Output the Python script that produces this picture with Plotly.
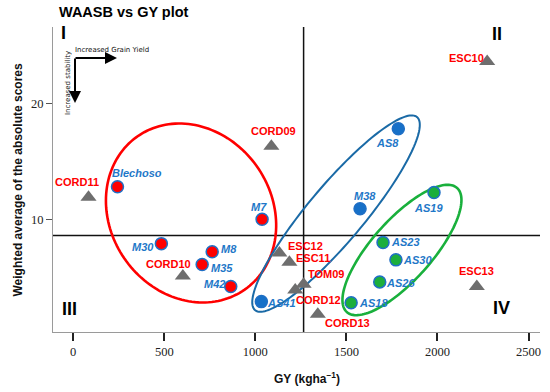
import numpy as np
import plotly.graph_objects as go

# ---------------- data ----------------
gen_names = ["Blechoso", "M7", "M30", "M8", "M35", "M42",
             "AS8", "M38", "AS41",
             "AS19", "AS23", "AS30", "AS26", "AS18"]
gen_gy = [243, 1037, 484, 763, 708, 865,
          1785, 1575, 1033,
          1981, 1701, 1772, 1683, 1526]
gen_waasb = [12.8, 10.0, 7.9, 7.2, 6.1, 4.2,
             17.8, 10.9, 2.9,
             12.3, 8.0, 6.5, 4.6, 2.8]
gen_group = ["red"] * 6 + ["blue"] * 3 + ["green"] * 5

env_names = ["CORD11", "CORD09", "CORD10", "ESC12", "ESC11", "TOM09",
             "CORD12", "CORD13", "ESC13", "ESC10"]
env_gy = [84, 1088, 602, 1132, 1187, 1265, 1219, 1343, 2216, 2273]
env_waasb = [11.9, 16.3, 5.1, 7.1, 6.3, 4.4, 3.9, 1.8, 4.2, 23.6]

mean_gy = 1265
mean_waasb = 8.6

x_ticks = [0, 500, 1000, 1500, 2000, 2500]
y_ticks = [10, 20]

# ---------------- layout constants ----------------
W, H = 550, 392
ML, MR, MT, MB = 53, 10, 27, 60
XR = [-111, 2563]
YR = [0.28, 26.58]
PW, PH = W - ML - MR, H - MT - MB
px_x = PW / (XR[1] - XR[0])
px_y = PH / (YR[1] - YR[0])


def paper(X, Y):
    return (X - ML) / PW, (H - MB - Y) / PH


fill = {"red": "#ff0000", "blue": "#1670c8", "green": "#1cae3c"}
outline = "#1f6fc5"
gen_lbl_col = "#1f78c8"
env_lbl_col = "#ff0000"

# label offsets in pixels (dx right, dy down)
gen_off = {"Blechoso": (20, -14), "M7": (-3, -12), "M30": (-18, 3), "M8": (17, -3),
           "M35": (20, 3), "M42": (-16, -3), "AS8": (-11, 14), "M38": (5, -13),
           "AS41": (20, 1), "AS19": (-6, 15), "AS23": (22, 0), "AS30": (22, 0),
           "AS26": (21, 1), "AS18": (22, 0)}
env_off = {"CORD11": (-12, -15), "CORD09": (2, -15), "CORD10": (-14, -12),
           "ESC12": (26, -7), "ESC11": (24, -4), "TOM09": (22, -10),
           "CORD12": (23, 10), "CORD13": (30, 9), "ESC13": (0, -16), "ESC10": (-21, -4)}

fig = go.Figure()

# ellipses (center in data units, semi-axes in px, angle deg ccw)
ellipses = [
    (647, 10.54, 93.5, 80.7, -55, "#ff0000", 2.6),
    (1443, 10.49, 126, 28, 50, "#1a6aa6", 2.0),
    (1805, 7.35, 83, 30, 48.4, "#19b03c", 2.6),
]
shapes = []
for cx, cy, a, b, ang, col, lw in ellipses:
    t = np.linspace(0, 2 * np.pi, 160)
    th = np.deg2rad(ang)
    dx = a * np.cos(t) * np.cos(th) - b * np.sin(t) * np.sin(th)
    dy = a * np.cos(t) * np.sin(th) + b * np.sin(t) * np.cos(th)
    xs = cx + dx / px_x
    ys = cy + dy / px_y
    path = "M " + " L ".join(f"{x:.3f},{y:.4f}" for x, y in zip(xs, ys)) + " Z"
    shapes.append(dict(type="path", path=path, xref="x", yref="y",
                       line=dict(color=col, width=lw), layer="below"))

shapes.append(dict(type="line", xref="paper", yref="y", x0=0, x1=1,
                   y0=mean_waasb, y1=mean_waasb, line=dict(color="#111", width=1.5), layer="below"))
shapes.append(dict(type="line", xref="x", yref="paper", x0=mean_gy, x1=mean_gy,
                   y0=0, y1=1.0, line=dict(color="#111", width=1.5), layer="below"))

# environments (triangles)
fig.add_trace(go.Scatter(x=env_gy, y=env_waasb, mode="markers",
                         marker=dict(symbol="triangle-up", size=14, color="#6e6e6e"),
                         hoverinfo="text", text=env_names, showlegend=False))

# genotypes (circles)
for grp in ["red", "blue", "green"]:
    idx = [i for i, g in enumerate(gen_group) if g == grp]
    fig.add_trace(go.Scatter(x=[gen_gy[i] for i in idx], y=[gen_waasb[i] for i in idx],
                             mode="markers",
                             marker=dict(symbol="circle", size=12, color=fill[grp],
                                         line=dict(color=outline, width=1.5)),
                             hoverinfo="text", text=[gen_names[i] for i in idx],
                             showlegend=False))

annotations = []
for n, x, y in zip(gen_names, gen_gy, gen_waasb):
    ox, oy = gen_off[n]
    annotations.append(dict(x=x, y=y, xref="x", yref="y", text=f"<b><i>{n}</i></b>",
                            showarrow=False, xshift=ox, yshift=-oy,
                            font=dict(family="Liberation Sans", size=11, color=gen_lbl_col)))
for n, x, y in zip(env_names, env_gy, env_waasb):
    ox, oy = env_off[n]
    annotations.append(dict(x=x, y=y, xref="x", yref="y", text=f"<b>{n}</b>",
                            showarrow=False, xshift=ox, yshift=-oy,
                            font=dict(family="Liberation Sans", size=11, color=env_lbl_col)))

# quadrant numerals
for txt, X, Y in [("I", 63, 33), ("II", 497, 34), ("III", 69, 309), ("IV", 501, 308)]:
    px, py = paper(X, Y)
    annotations.append(dict(x=px, y=py, xref="paper", yref="paper", text=f"<b>{txt}</b>",
                            showarrow=False, xanchor="center", yanchor="middle",
                            font=dict(family="Liberation Sans", size=18, color="#000")))

# title
px, py = paper(57, 12)
annotations.append(dict(x=px, y=py, xref="paper", yref="paper", text="<b>WAASB vs GY plot</b>",
                        showarrow=False, xanchor="left", yanchor="middle",
                        font=dict(family="Liberation Sans", size=14.5, color="#000")))

# axis titles
px, py = paper(17, (MT + H - MB) / 2)
annotations.append(dict(x=px, y=py, xref="paper", yref="paper", textangle=-90,
                        text="<b>Weighted average of the absolute scores</b>",
                        showarrow=False, xanchor="center", yanchor="middle",
                        font=dict(family="Liberation Sans", size=12, color="#111")))
px, py = paper(307, 378)
annotations.append(dict(x=px, y=py, xref="paper", yref="paper",
                        text="<b>GY (kgha<sup>\u22121</sup>)</b>",
                        showarrow=False, xanchor="center", yanchor="middle",
                        font=dict(family="Liberation Sans", size=12, color="#111")))

# direction arrows
px, py = paper(117, 58)
annotations.append(dict(x=px, y=py, xref="paper", yref="paper", ax=-43, ay=0, text="",
                        showarrow=True, arrowhead=2, arrowsize=1.2, arrowwidth=2, arrowcolor="#000"))
px, py = paper(75, 103)
annotations.append(dict(x=px, y=py, xref="paper", yref="paper", ax=0, ay=-46, text="",
                        showarrow=True, arrowhead=2, arrowsize=1.2, arrowwidth=2, arrowcolor="#000"))
px, py = paper(112, 50)
annotations.append(dict(x=px, y=py, xref="paper", yref="paper", text="Increased Grain Yield",
                        showarrow=False, xanchor="center", yanchor="middle",
                        font=dict(family="DejaVu Sans", size=7, color="#111")))
px, py = paper(68, 83)
annotations.append(dict(x=px, y=py, xref="paper", yref="paper", text="Increased stability",
                        showarrow=False, xanchor="center", yanchor="middle", textangle=-90,
                        font=dict(family="DejaVu Sans", size=7, color="#111")))

fig.update_layout(
    width=W, height=H,
    margin=dict(l=ML, r=MR, t=MT, b=MB),
    paper_bgcolor="white", plot_bgcolor="white",
    shapes=shapes, annotations=annotations,
    xaxis=dict(range=XR, tickvals=x_ticks, showgrid=False, zeroline=False,
               showline=True, linecolor="#9a9a9a", linewidth=1,
               ticks="outside", ticklen=8, tickwidth=1.5, tickcolor="#222",
               tickfont=dict(family="Liberation Serif", size=12.5, color="#222")),
    yaxis=dict(range=YR, tickvals=y_ticks, showgrid=False, zeroline=False,
               showline=True, linecolor="#9a9a9a", linewidth=1,
               ticks="outside", ticklen=6, tickwidth=1, tickcolor="#555",
               tickfont=dict(family="Liberation Serif", size=12.5, color="#222")),
)

fig.write_html("out.html", config={"displayModeBar": False},
               post_script="document.body.style.margin='0';")
